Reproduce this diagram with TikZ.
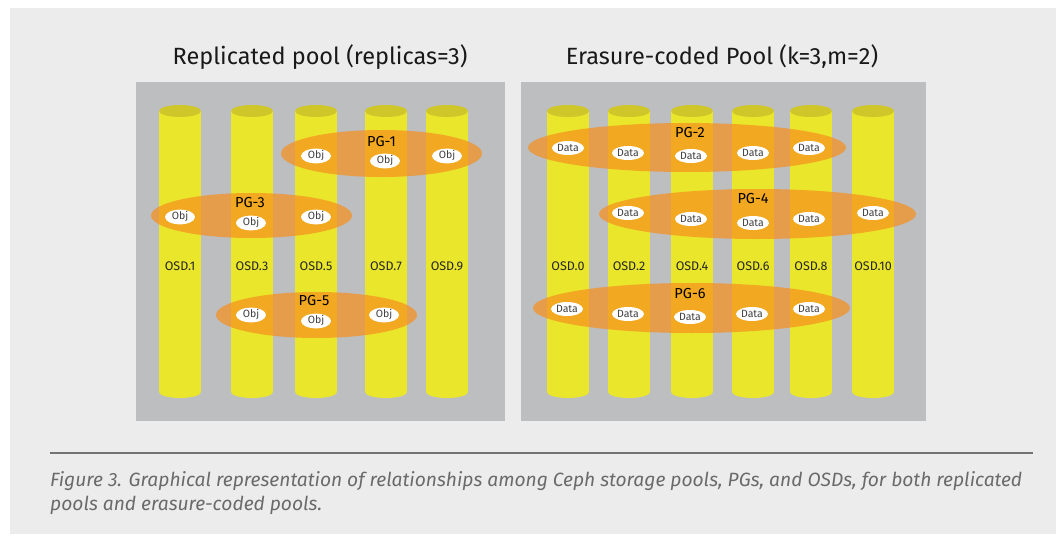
\documentclass[tikz,border=0pt]{standalone}
\usepackage{fontspec}
\setmainfont{Fira Sans}
\usetikzlibrary{shapes.geometric}
\definecolor{pagegray}{HTML}{ECECEC}
\definecolor{poolgray}{HTML}{BDBEC0}
\definecolor{osdyellow}{HTML}{E9E62C}
\definecolor{osdtop}{HTML}{CFC62A}
\definecolor{pgorange}{HTML}{F68F1B}
\definecolor{captiongray}{HTML}{6A6A6A}
\tikzset{
  osdlabel/.style={font=\fontsize{12.5}{14}\selectfont, text=black!85},
  pgring/.style={ellipse, fill=pgorange, fill opacity=0.7, draw=none, inner sep=0pt},
  pglabel/.style={font=\fontsize{14.5}{16}\selectfont, text=black},
  chunk/.style={ellipse, fill=white, inner sep=0pt, minimum width=32pt, minimum height=14pt, font=\fontsize{10.5}{11}\selectfont, text=black!75},
  pooltitle/.style={font=\fontsize{23.5}{25}\selectfont, text=black!90},
  caption/.style={anchor=west, inner sep=0pt, font=\itshape\fontsize{19.2}{21}\selectfont, text=captiongray}
}
\begin{document}
\begin{tikzpicture}[x=1pt,y=-1pt]
\useasboundingbox (0,0) rectangle (1059,535);
\fill[pagegray] (10,8) rectangle (1056,534);
% pools
\fill[poolgray] (136,82) rectangle (505,421);
\fill[poolgray] (521,82) rectangle (926,421);
\path (320,57) node[pooltitle] (titleA) {Replicated pool (replicas=3)};
\path (722,57) node[pooltitle] (titleB) {Erasure-coded Pool (k=3,m=2)};
% OSD cylinders
\foreach \x in {180,252,316,386,447,568,629,692,753,811,873}{
  \fill[osdyellow] (\x-21,111) rectangle (\x+21,392);
  \fill[osdyellow] (\x,392) ellipse (21 and 6);
  \fill[osdtop] (\x,111) ellipse (21 and 6);
}
\path (180,266) node[osdlabel] (osd1) {OSD.1};
\path (252,266) node[osdlabel] (osd3) {OSD.3};
\path (316,266) node[osdlabel] (osd5) {OSD.5};
\path (386,266) node[osdlabel] (osd7) {OSD.7};
\path (447,266) node[osdlabel] (osd9) {OSD.9};
\path (568,266) node[osdlabel] (osd0) {OSD.0};
\path (629,266) node[osdlabel] (osd2) {OSD.2};
\path (692,266) node[osdlabel] (osd4) {OSD.4};
\path (753,266) node[osdlabel] (osd6) {OSD.6};
\path (811,266) node[osdlabel] (osd8) {OSD.8};
\path (873,266) node[osdlabel] (osd10) {OSD.10};
% placement groups, replicated
\path (381.5,153.5) node[pgring,minimum width=201pt,minimum height=47pt] (pg1) {};
\path (251.5,215.5) node[pgring,minimum width=201pt,minimum height=45pt] (pg3) {};
\path (316.5,315) node[pgring,minimum width=201pt,minimum height=46pt] (pg5) {};
\path (381.5,142) node[pglabel] (pg1label) {PG-1};
\path (250,203) node[pglabel] (pg3label) {PG-3};
\path (314,301) node[pglabel] (pg5label) {PG-5};
\path (316,156) node[chunk,minimum width=30pt] (pg1a) {Obj};
\path (385,161) node[chunk,minimum width=30pt] (pg1b) {Obj};
\path (447,156) node[chunk,minimum width=30pt] (pg1c) {Obj};
\path (180,217) node[chunk,minimum width=30pt] (pg3a) {Obj};
\path (251,223) node[chunk,minimum width=30pt] (pg3b) {Obj};
\path (316,217) node[chunk,minimum width=30pt] (pg3c) {Obj};
\path (251,315) node[chunk,minimum width=30pt] (pg5a) {Obj};
\path (316,321) node[chunk,minimum width=30pt] (pg5b) {Obj};
\path (384,315) node[chunk,minimum width=30pt] (pg5c) {Obj};
% placement groups, erasure coded
\path (687,147.5) node[pgring,minimum width=318pt,minimum height=49pt] (pg2) {};
\path (757.5,214) node[pgring,minimum width=317pt,minimum height=50pt] (pg4) {};
\path (691.5,308) node[pgring,minimum width=317pt,minimum height=50pt] (pg6) {};
\path (690,133) node[pglabel] (pg2label) {PG-2};
\path (753,199) node[pglabel] (pg4label) {PG-4};
\path (690,294) node[pglabel] (pg6label) {PG-6};
\path (568,148) node[chunk] (pg2a) {Data};
\path (628,153) node[chunk] (pg2b) {Data};
\path (691,156) node[chunk] (pg2c) {Data};
\path (753,153) node[chunk] (pg2d) {Data};
\path (809,148) node[chunk] (pg2e) {Data};
\path (628,213) node[chunk] (pg4a) {Data};
\path (691,219) node[chunk] (pg4b) {Data};
\path (753,223) node[chunk] (pg4c) {Data};
\path (809,219) node[chunk] (pg4d) {Data};
\path (873,213) node[chunk] (pg4e) {Data};
\path (567,309) node[chunk] (pg6a) {Data};
\path (628,314) node[chunk] (pg6b) {Data};
\path (690,317) node[chunk] (pg6c) {Data};
\path (752,314) node[chunk] (pg6d) {Data};
\path (809,309) node[chunk] (pg6e) {Data};
% caption
\draw[line width=1.6pt,black!55] (50,453) -- (1033,453);
\path (50,481) node[caption] (caption1) {Figure 3. Graphical representation of relationships among Ceph storage pools, PGs, and OSDs, for both replicated};
\path (50,505) node[caption] (caption2) {pools and erasure-coded pools.};
\end{tikzpicture}
\end{document}
